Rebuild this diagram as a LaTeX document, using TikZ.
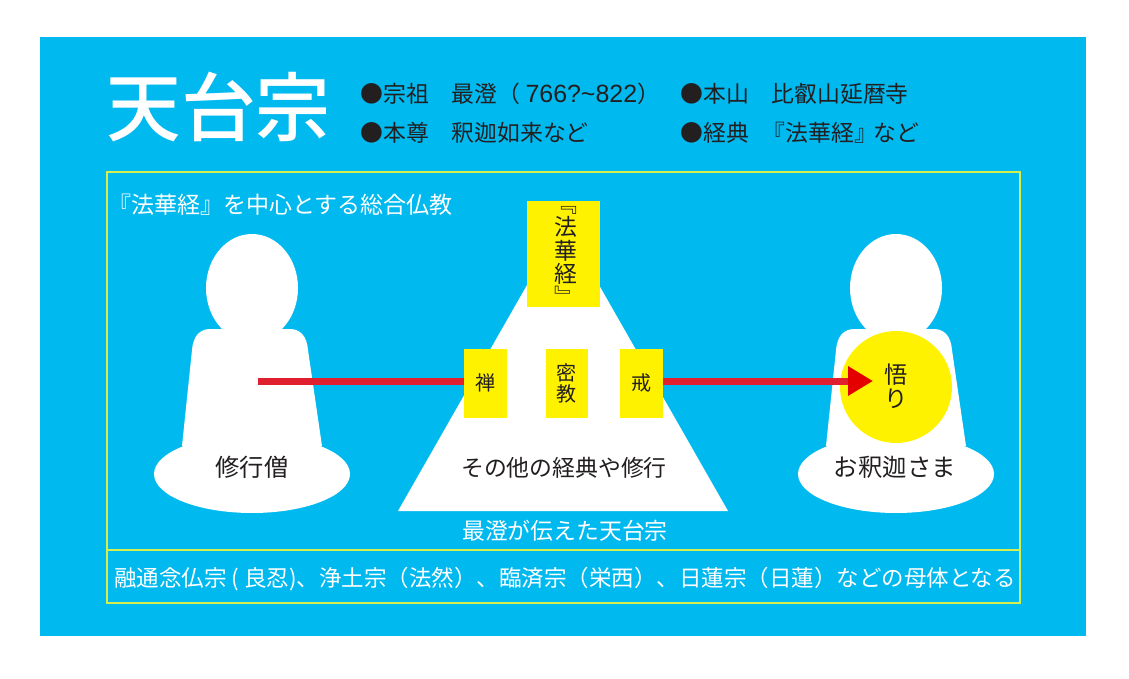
\documentclass[tikz,border=0pt]{standalone}
\usepackage{fontspec}
\usepackage{xcolor}
\setmainfont{Noto Sans CJK JP}
\newfontfamily\titlefont{Noto Sans CJK JP Medium}
\newfontfamily\latinfont{Liberation Sans}
\usetikzlibrary{arrows.meta}
\definecolor{skyback}{HTML}{00B9EF}
\definecolor{signyellow}{HTML}{FFF200}
\definecolor{framegreen}{HTML}{D6EE4E}
\definecolor{arrowred}{HTML}{E0202E}
\definecolor{inkdark}{HTML}{231F20}
\tikzset{
  whitetext/.style={text=white,inner sep=0pt,font=\fontsize{13.1}{15}\selectfont},
  darktext/.style={text=inkdark,inner sep=0pt,font=\fontsize{13}{15}\selectfont},
  stacktext/.style={text=inkdark,inner sep=0pt,align=center},
  statue/.pic={
    \fill[white] (0,0) ellipse (46 and 54);
    \fill[white] (-70,158) -- (-60,62) .. controls (-59,48) and (-52,41) .. (-42,41)
      -- (38,41) .. controls (48,41) and (55,48) .. (56,62) -- (70,158) -- cycle;
    \fill[white] (0,186) ellipse (98 and 39);
  }
}
\begin{document}
\begin{tikzpicture}[x=0.02cm,y=-0.02cm]
\useasboundingbox (0,0) rectangle (1129,679);
\fill[white] (0,0) rectangle (1129,679);
\fill[skyback] (40,37) rectangle (1086,636);
\draw[framegreen,line width=0.04cm] (107,172) rectangle (1020,603);
\draw[framegreen,line width=0.04cm] (107,550) -- (1020,550);
\draw (106,107) node[anchor=west,text=white,inner sep=0pt,font=\fontsize{42.5}{46}\titlefont] (title) {天台宗};
\draw (360,94) node[anchor=west,darktext] (founder) {●宗祖　最澄（\kern3pt{\latinfont\fontsize{14.2}{15}\selectfont 766?\string~822}）};
\draw (360,133) node[anchor=west,darktext] (honzon) {●本尊　釈迦如来など};
\draw (680,94) node[anchor=west,darktext] (temple) {●本山　比叡山延暦寺};
\draw (680,133) node[anchor=west,darktext] (sutra) {●経典　\kern-5pt『法華経』\kern-2pt など};
\draw (108,205) node[anchor=west,whitetext] (theme) {『法華経』を中心とする総合仏教};
\pic at (252,288) {statue};
\pic at (896,288) {statue};
\fill[signyellow] (896,387) circle (56);
\coordinate (monkchest) at (258,381);
\coordinate (satori) at (873,381);
\draw[arrowred,line width=0.14cm,-{Triangle[length=0.5cm,width=0.56cm,color=red!90!black]}] (monkchest) -- (satori);
\fill[white] (563,222) -- (728,511) -- (398,511) -- cycle;
\fill[signyellow] (527,201) rectangle (600,307);
\fill[signyellow] (464,349) rectangle (507,418);
\fill[signyellow] (546,349) rectangle (588,418);
\fill[signyellow] (620,349) rectangle (663,418);
\draw (566,256) node[stacktext,font=\fontsize{13}{13.3}\selectfont] (hokekyo) {﹃\\法\\華\\経\\﹄};
\draw (485.5,383) node[stacktext,font=\fontsize{11.4}{12}\selectfont] (zen) {禅};
\draw (567,383) node[stacktext,font=\fontsize{11.4}{12}\selectfont] (mikkyo) {密\\教};
\draw (641.5,383) node[stacktext,font=\fontsize{11.4}{12}\selectfont] (kai) {戒};
\draw (896,386) node[stacktext,font=\fontsize{13.3}{13.6}\selectfont] (goal) {悟\\り};
\draw (252,467) node[darktext,font=\fontsize{13.8}{15}\selectfont] (monk) {修行僧};
\draw (564,468) node[darktext,font=\fontsize{13}{15}\selectfont] (others) {その他の経典や修行};
\draw (895,467) node[darktext,font=\fontsize{13.9}{15}\selectfont] (buddha) {お釈迦さま};
\draw (565,531) node[whitetext,font=\fontsize{13}{15}\selectfont] (saicho) {最澄が伝えた天台宗};
\draw (565,579) node[whitetext,font=\fontsize{12.8}{15}\selectfont] (mother) {融通念仏宗 ( 良忍)、浄土宗（法然）、臨済宗（栄西）、日蓮宗（日蓮）などの母体となる};
\end{tikzpicture}
\end{document}
